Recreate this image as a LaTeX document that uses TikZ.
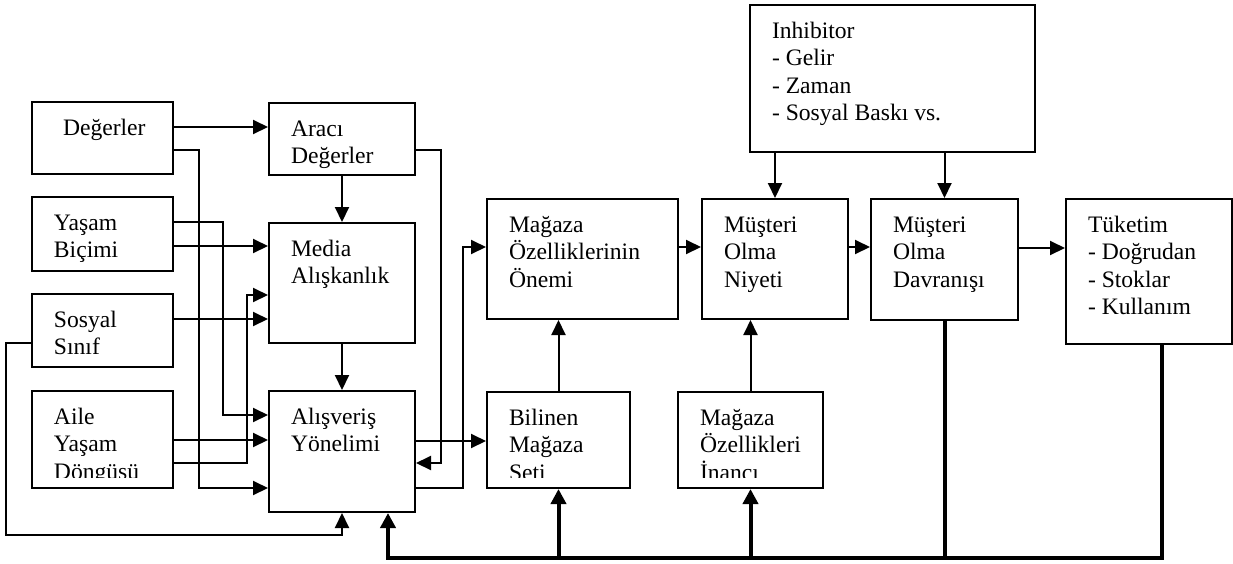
\documentclass[tikz,border=0pt]{standalone}
\usepackage{fontspec}
\setmainfont{Liberation Serif}
\usetikzlibrary{arrows.meta}
\tikzset{
  ic/.store in=\kutuic, ic=10.5pt,
  kes/.store in=\kutukes, kes=0pt,
  metin/.style={anchor=base west, inner sep=0pt, draw=none, fill=none,
    minimum width=0pt, minimum height=0pt,
    font=\fontsize{11.8}{13.75}\selectfont},
  kutu/.style={draw, line width=1pt, inner sep=0pt,
    path picture={
      \clip ([yshift=\kutukes]path picture bounding box.south west) rectangle (path picture bounding box.north east);
      \node[metin] at ([xshift=\kutuic,yshift=-16.5pt]path picture bounding box.north west)
        {\begin{tabular}[t]{@{}l@{}}#1\end{tabular}};
    }},
  ok/.style={-{Triangle[length=7.5pt,width=7pt]}, line width=1pt},
  kalin/.style={line width=2pt},
  kalinok/.style={kalin, -{Triangle[length=7.5pt,width=7.5pt]}}
}
\begin{document}
\begin{tikzpicture}[x=0.5pt,y=-0.5pt]
  \useasboundingbox (0,0) rectangle (1233,563);
  % sol sutun
  \node[ic=15pt, kutu={Değerler}, minimum width=70.5pt, minimum height=36pt] (deger) at (102.5,138) {};
  \node[kutu={Yaşam\\Biçimi}, minimum width=70.5pt, minimum height=37pt] (yasam) at (102.5,234) {};
  \node[kutu={Sosyal\\Sınıf}, minimum width=70.5pt, minimum height=36.5pt] (sosyal) at (102.5,330.5) {};
  \node[kes=5.5pt, kutu={Aile\\Yaşam\\Döngüsü}, minimum width=70.5pt, minimum height=48.5pt] (aile) at (102.5,439.5) {};
  % orta
  \node[kutu={Aracı\\Değerler}, minimum width=73pt, minimum height=36pt] (araci) at (342,139) {};
  \node[kutu={Media\\Alışkanlık}, minimum width=73pt, minimum height=60pt] (medya) at (342,283) {};
  \node[kutu={Alışveriş\\Yönelimi}, minimum width=73pt, minimum height=60.5pt] (yonelim) at (342,451.5) {};
  \node[kutu={Mağaza\\Özelliklerinin\\Önemi}, minimum width=95.5pt, minimum height=60pt] (onem) at (582.5,259) {};
  \node[kutu={Müşteri\\Olma\\Niyeti}, minimum width=73pt, minimum height=60pt] (niyet) at (775,259) {};
  \node[kes=5.5pt, kutu={Bilinen\\Mağaza\\Seti}, minimum width=71.5pt, minimum height=48pt] (bilinen) at (558.5,440) {};
  \node[kes=5.5pt, kutu={Mağaza\\Özellikleri\\İnancı}, minimum width=72.5pt, minimum height=48pt] (inanc) at (750.5,440) {};
  % sag
  \node[kutu={Inhibitor\\- Gelir\\- Zaman\\- Sosyal Baskı vs.}, minimum width=142.5pt, minimum height=73.5pt] (inhib) at (892.5,78.5) {};
  \node[kutu={Müşteri\\Olma\\Davranışı}, minimum width=73.5pt, minimum height=60.5pt] (davranis) at (944.5,259.5) {};
  \node[kutu={Tüketim\\- Doğrudan\\- Stoklar\\- Kullanım}, minimum width=83pt, minimum height=72.5pt] (tuketim) at (1149,271.5) {};

  % baglantilar
  \draw[ok] (deger.east |- 0,127) -- (araci.west |- 0,127);
  \draw[ok] (deger.east |- 0,150) -- ++(25,0) |- (yonelim.west |- 0,488);
  \draw[ok] (yasam.east |- 0,222) -- ++(49,0) |- (yonelim.west |- 0,415);
  \draw[ok] (yasam.east |- 0,246) -- (medya.west |- 0,246);
  \draw[ok] (sosyal.east |- 0,319) -- (medya.west |- 0,319);
  \draw[ok] (sosyal.west |- 0,343) -- ++(-25,0) |- (yonelim.south |- 0,535) -- (yonelim.south);
  \draw[ok] (aile.east |- 0,440) -- (yonelim.west |- 0,440);
  \draw[ok] (aile.east |- 0,463) -- ++(73,0) |- (medya.west |- 0,295);
  \draw[ok] (araci.south) -- (medya.north);
  \draw[ok] (araci.east |- 0,150) -- ++(25,0) |- (yonelim.east |- 0,463);
  \draw[ok] (medya.south) -- (yonelim.north);
  \draw[ok] (yonelim.east |- 0,441) -- (bilinen.west |- 0,441);
  \draw[ok] (yonelim.east |- 0,488) -- ++(47,0) |- (onem.west |- 0,247);
  \draw[ok] (bilinen.north) -- (bilinen.north |- onem.south);
  \draw[ok] (inanc.north) -- (inanc.north |- niyet.south);
  \draw[ok] (onem.east |- 0,247) -- (niyet.west |- 0,247);
  \draw[ok] (niyet.east |- 0,247) -- (davranis.west |- 0,247);
  \draw[ok] (davranis.east |- 0,248) -- (tuketim.west |- 0,248);
  \draw[ok] (inhib.south -| niyet) -- (niyet.north);
  \draw[ok] (inhib.south -| davranis) -- (davranis.north);

  % geri besleme
  \coordinate (alt) at (388,558);
  \draw[kalinok] (tuketim.south -| 1162,0) |- (alt) -- (yonelim.south -| alt);
  \draw[kalin] (davranis.south) -- (davranis.south |- alt);
  \draw[kalinok] (bilinen.south |- alt) -- (bilinen.south);
  \draw[kalinok] (inanc.south |- alt) -- (inanc.south);
\end{tikzpicture}
\end{document}
